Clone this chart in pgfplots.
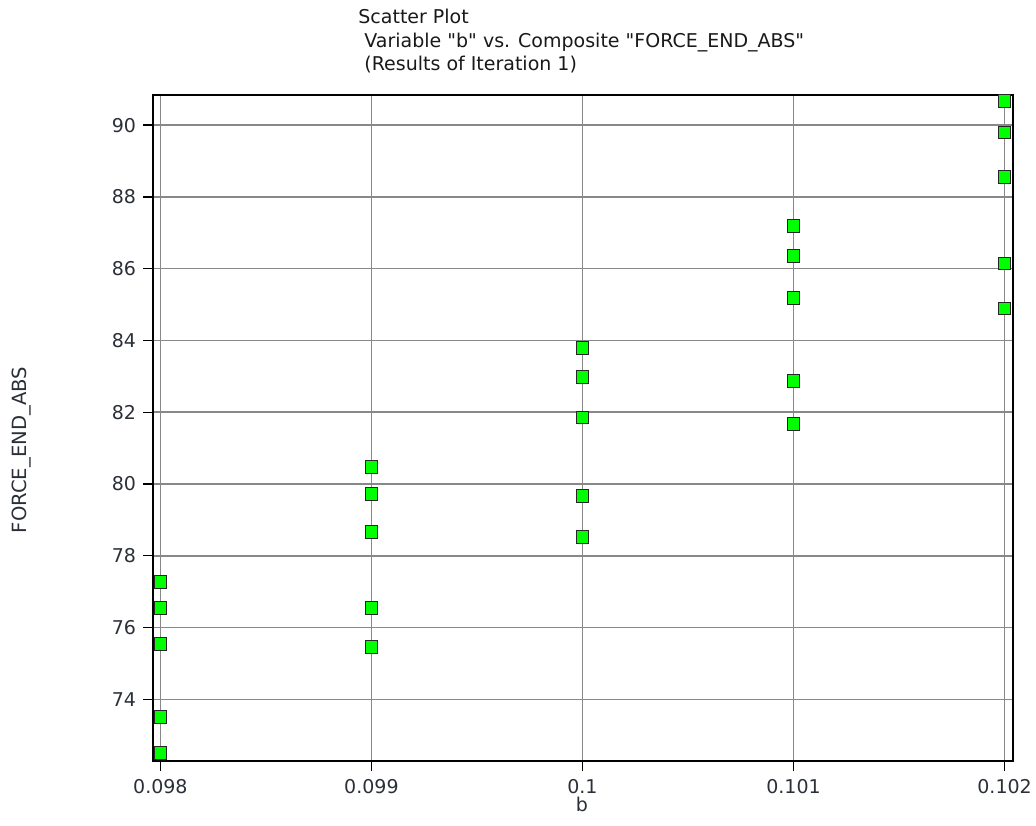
\documentclass[border=0pt]{standalone}
\usepackage{fontspec}
\setmainfont{DejaVu Sans}[Ligatures=TeXOff]
\usepackage{pgfplots}
\pgfplotsset{compat=1.18}
\definecolor{gridgray}{HTML}{888888}
\definecolor{ticktext}{HTML}{2B2F38}
\definecolor{mkgreen}{HTML}{00FF00}
\newcommand{\dq}{\symbol{34}}
\begin{document}
\begin{tikzpicture}[x=1pt,y=1pt]
\useasboundingbox (0,0) rectangle (518,412.5);
\begin{axis}[
  at={(76.5pt,32pt)}, anchor=south west,
  scale only axis, width=430pt, height=333pt,
  xmin=0.097965, xmax=0.10204,
  ymin=72.28, ymax=90.84,
  xtick={0.098,0.099,0.1,0.101,0.102},
  xticklabels={0.098,0.099,0.1,0.101,0.102},
  scaled x ticks=false,
  ytick={74,76,78,80,82,84,86,88,90},
  yticklabels={74,76,78,80,82,84,86,88,90},
  tick align=outside, major tick length=5pt,
  tick style={black, line width=0.7pt},
  xtick pos=bottom, ytick pos=left,
  grid=major,
  major grid style={gridgray, line width=0.75pt},
  axis line style={black, line width=0.8pt},
  tick label style={font=\fontsize{9.5}{11}\selectfont, text=ticktext},
  xticklabel style={yshift=-0.5pt},
  yticklabel style={xshift=0pt},
  /pgf/number format/assume math mode=true,
  clip=false,
]
\addplot[only marks, mark=square*, mark size=3.1pt,
  mark options={fill=mkgreen, draw=black!85, line width=0.5pt}]
  table {
x y
0.098 77.27
0.098 76.54
0.098 75.54
0.098 73.51
0.098 72.50
0.099 80.47
0.099 79.72
0.099 78.66
0.099 76.54
0.099 75.46
0.1 83.79
0.1 82.98
0.1 81.86
0.1 79.66
0.1 78.52
0.101 87.19
0.101 86.35
0.101 85.18
0.101 82.87
0.101 81.67
0.102 90.67
0.102 89.80
0.102 88.56
0.102 86.15
0.102 84.89
};
\end{axis}
\node[anchor=north west, align=left, inner sep=0pt,
  font=\fontsize{9.5}{11.75}\selectfont, text=black!90]
  at (179,408) {Scatter Plot\\
  \ Variable \dq b\dq\ vs. Composite \dq FORCE\_END\_ABS\dq\\
  \ (Results of Iteration 1)};
\node[rotate=90, inner sep=0pt, font=\fontsize{9.8}{11}\selectfont, text=ticktext]
  at (11,187.5) {FORCE\_END\_ABS};
\node[inner sep=0pt, font=\fontsize{9.5}{11}\selectfont, text=ticktext]
  at (291,10.5) {b};
\end{tikzpicture}
\end{document}
